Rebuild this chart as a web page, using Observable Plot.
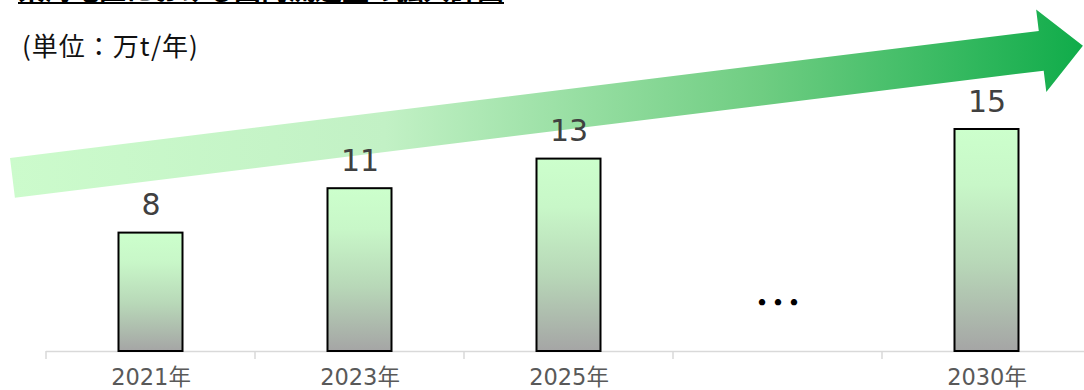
<!DOCTYPE html>
<html>
<head>
<meta charset="utf-8">
<script src="https://cdn.jsdelivr.net/npm/d3@7"></script>
<script src="https://cdn.jsdelivr.net/npm/@observablehq/plot@0.6"></script>
<style>
  body { margin: 0; background: #fff; }
  #wrap { position: relative; width: 1084px; height: 390px; overflow: hidden; }
  #title {
    position: absolute; left: 18px; top: -25.5px; margin: 0;
    font: bold 27px "Noto Sans CJK JP", sans-serif; line-height: 1;
    color: #000; white-space: nowrap;
    text-decoration: underline; text-decoration-thickness: 2px; text-underline-offset: 2px;
  }
  #unit {
    position: absolute; left: 22px; top: 29px; margin: 0;
    font: 26px "Noto Sans CJK JP", sans-serif; line-height: 1.2; color: #111;
    letter-spacing: 1px;
  }
  #chart { position: absolute; left: 0; top: 0; }
</style>
</head>
<body>
<div id="wrap">
  <div id="chart"></div>
  <h1 id="title">東海地区における国内流通量の拡大計画</h1>
  <p id="unit">(単位：万t/年)</p>
</div>
<script>
// Annual volume (10,000 t per year); the empty category is the gap shown as "…"
const years   = ["2021年", "2023年", "2025年", "", "2030年"];
const volumes = [8, 11, 13, null, 15];
const gapCategory = "";
const gapMark = "…";

const rows = years.map((year, i) => ({year, volume: volumes[i]}));
const bars = rows.filter(d => d.volume != null);

const W = 1084, H = 390;

// Gradient definitions for the bars and the trend arrow
const gradients = () => {
  const defs = d3.create("svg:defs");
  const bar = defs.append("linearGradient").attr("id", "barFill")
    .attr("x1", 0).attr("y1", 0).attr("x2", 0).attr("y2", 1);
  bar.append("stop").attr("offset", "0%").attr("stop-color", "#ccffcc");
  bar.append("stop").attr("offset", "25%").attr("stop-color", "#c8f7c8");
  bar.append("stop").attr("offset", "60%").attr("stop-color", "#b8d8b8");
  bar.append("stop").attr("offset", "100%").attr("stop-color", "#a5a5a5");
  const arrow = defs.append("linearGradient").attr("id", "arrowFill")
    .attr("x1", 0).attr("y1", 0).attr("x2", 1).attr("y2", 0);
  arrow.append("stop").attr("offset", "0%").attr("stop-color", "#ccfbcc");
  arrow.append("stop").attr("offset", "35%").attr("stop-color", "#c2f1c5");
  arrow.append("stop").attr("offset", "70%").attr("stop-color", "#6fcd82");
  arrow.append("stop").attr("offset", "100%").attr("stop-color", "#10ac4a");
  return defs.node();
};

// Wide rising arrow behind the bars, laid out relative to the SVG size
const trendArrow = (index, scales, values, dims) => {
  const {width, height} = dims;
  const x0 = 0.0115 * width, y0 = 0.456 * height;   // tail centre
  const x1 = 0.999 * width,  y1 = 0.117 * height;   // tip
  const shaft = 40, headLen = 42, headWidth = 83;
  const len = Math.hypot(x1 - x0, y1 - y0);
  const ux = (x1 - x0) / len, uy = (y1 - y0) / len;
  const nx = -uy, ny = ux;
  const bx = x1 - ux * headLen, by = y1 - uy * headLen;
  const p = (x, y, k) => [x + nx * k, y + ny * k];
  const pts = [
    p(x0, y0, -shaft / 2), p(bx, by, -shaft / 2), p(bx, by, -headWidth / 2),
    [x1, y1],
    p(bx, by, headWidth / 2), p(bx, by, shaft / 2), p(x0, y0, shaft / 2)
  ];
  return d3.create("svg:path")
    .attr("d", "M" + pts.map(q => q.join(",")).join("L") + "Z")
    .attr("fill", "url(#arrowFill)")
    .node();
};

// Short tick marks at the band boundaries below the baseline
const bandTicks = (index, scales, values, dims) => {
  const x = scales.x;
  const step = x(years[1]) - x(years[0]);
  const y0 = dims.height - dims.marginBottom;
  const g = d3.create("svg:g").attr("stroke", "#d9d9d9").attr("stroke-width", 1.5);
  for (const c of years) {
    g.append("line").attr("x1", x(c)).attr("x2", x(c)).attr("y1", y0).attr("y2", y0 + 8);
  }
  g.append("line").attr("x1", x(years[years.length - 1]) + step)
    .attr("x2", x(years[years.length - 1]) + step).attr("y1", y0).attr("y2", y0 + 8);
  return g.node();
};

const chart = Plot.plot({
  width: W,
  height: H,
  marginLeft: 46,
  marginRight: 0,
  marginTop: 0,
  marginBottom: 39,
  style: {fontFamily: "'DejaVu Sans', 'Noto Sans CJK JP', sans-serif", background: "transparent", overflow: "visible"},
  x: {domain: years, range: [46, 1091], padding: 0, label: null},
  y: {domain: [0, 15], range: [351, 129], axis: null},
  marks: [
    gradients,
    trendArrow,
    Plot.ruleY([0], {stroke: "#d9d9d9", strokeWidth: 1.5}),
    bandTicks,
    Plot.axisX({tickSize: 0, tickPadding: 18, fontSize: 22.5, color: "#595959", label: null}),
    Plot.barY(bars, {
      x: "year", y: "volume",
      fill: "url(#barFill)", stroke: "#000", strokeWidth: 2,
      insetLeft: 72.5, insetRight: 72.5
    }),
    Plot.text(bars, {
      x: "year", y: "volume", text: d => String(d.volume),
      dy: -18, lineAnchor: "bottom", fontSize: 30, fill: "#404040"
    }),
    Plot.text([gapCategory], {
      x: d => d, text: () => gapMark, frameAnchor: "bottom",
      dy: -47, lineAnchor: "middle", fontSize: 48, fill: "#000",
      fontFamily: "'Noto Sans CJK JP', sans-serif"
    })
  ]
});

document.getElementById("chart").append(chart);
</script>
</body>
</html>
